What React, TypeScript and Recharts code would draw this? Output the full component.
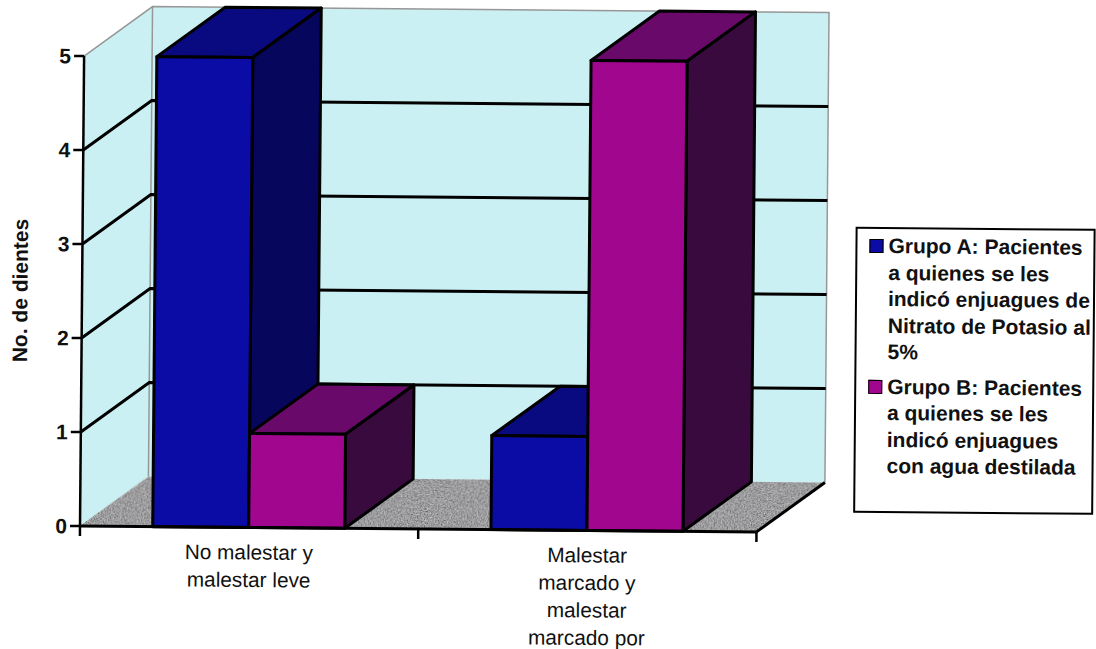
import { BarChart, Bar, XAxis, YAxis, Legend, Customized, usePlotArea } from 'recharts';

const categories = ['No malestar y malestar leve', 'Malestar marcado y malestar marcado por'];
const grupoA = [5, 1];
const grupoB = [1, 5];
const yTicks = [0, 1, 2, 3, 4, 5];
const gridValues = [1, 2, 3, 4];

const categoryLines = [
  ['No malestar y', 'malestar leve'],
  ['Malestar', 'marcado y', 'malestar', 'marcado por'],
];
const legendA = ['Grupo A: Pacientes', 'a quienes se les', 'indicó enjuagues de', 'Nitrato de Potasio al', '5%'];
const legendB = ['Grupo B: Pacientes', 'a quienes se les', 'indicó enjuagues', 'con agua destilada'];

const data = categories.map((name, i) => ({ name, a: grupoA[i], b: grupoB[i] }));

// depth of the fake 3D box, in px
const DX = 68;
const DY = 50;
const WALL = '#cbf0f3';
const FLOOR = '#9c9b9d';
const EDGE = '#979797';
const FONT = '"Liberation Sans", Arial, sans-serif';

const BLUE = { front: '#0b0ba6', top: '#0a0a80', side: '#06065c' };
const PURPLE = { front: '#a1068f', top: '#690a6b', side: '#380a3e' };

const Box = (props: any, c: typeof BLUE) => {
  const { x, y, width, height } = props;
  const stroke = { stroke: '#000', strokeWidth: 3, strokeLinejoin: 'round' as const };
  return (
    <g>
      <polygon points={`${x},${y} ${x + DX},${y - DY} ${x + width + DX},${y - DY} ${x + width},${y}`} fill={c.top} {...stroke} />
      <polygon points={`${x + width},${y} ${x + width + DX},${y - DY} ${x + width + DX},${y + height - DY} ${x + width},${y + height}`} fill={c.side} {...stroke} />
      <rect x={x} y={y} width={width} height={height} fill={c.front} {...stroke} />
    </g>
  );
};

// walls, floor and bent grid lines sit behind the bars
const Walls = () => {
  const plot = usePlotArea();
  if (!plot) return null;
  const { x, y, width, height } = plot;
  const b = y + height;
  const r = x + width;
  return (
    <g>
      <defs>
        <filter id="speckle" x="0" y="0" width="100%" height="100%">
          <feTurbulence type="fractalNoise" baseFrequency="0.7" numOctaves="2" seed="4" result="n" />
          <feColorMatrix in="n" type="matrix" values="1 0 0 0 0 1 0 0 0 0 1 0 0 0 0 0 0 0 0 1" result="g" />
          <feComposite in="SourceGraphic" in2="g" operator="arithmetic" k1="0" k2="1" k3="0.7" k4="-0.35" result="m" />
          <feComposite in="m" in2="SourceAlpha" operator="in" />
        </filter>
      </defs>
      <polygon points={`${x},${y} ${x + DX},${y - DY} ${x + DX},${b - DY} ${x},${b}`} fill={WALL} />
      <rect x={x + DX} y={y - DY} width={width} height={height} fill={WALL} />
      <polygon points={`${x},${b} ${x + DX},${b - DY} ${r + DX},${b - DY} ${r},${b}`} fill={FLOOR} filter="url(#speckle)" />
      <polyline points={`${x},${y} ${x + DX},${y - DY} ${r + DX},${y - DY} ${r + DX},${b - DY}`} fill="none" stroke={EDGE} strokeWidth={1.5} />
      <line x1={x + DX} y1={y - DY} x2={x + DX} y2={b - DY} stroke={EDGE} strokeWidth={1.5} />
      {gridValues.map(v => {
        const gy = b - (height * v) / yTicks[yTicks.length - 1];
        return (
          <polyline
            key={v}
            points={`${x},${gy} ${x + DX},${gy - DY} ${r + DX},${gy - DY}`}
            fill="none"
            stroke="#000"
            strokeWidth={3}
          />
        );
      })}
      <line x1={r} y1={b} x2={r + DX} y2={b - DY} stroke="#000" strokeWidth={3} />
      {[0, 1, 2].map(i => {
        const tx = x + (width * i) / 2;
        return <line key={i} x1={tx} y1={b} x2={tx} y2={b + 10} stroke="#000" strokeWidth={2.5} />;
      })}
    </g>
  );
};

const CategoryTick = ({ x, y, index }: any) => (
  <text x={x} y={y} textAnchor="middle" fontFamily={FONT} fontSize={20.8} fill="#111">
    {categoryLines[index].map((line, i) => (
      <tspan key={line} x={x} y={y + 24 + i * 27.5}>
        {line}
      </tspan>
    ))}
  </text>
);

const LegendEntry = ({ lines, color }: { lines: string[]; color: string }) => (
  <div style={{ position: 'relative', paddingLeft: 31, marginBottom: 8 }}>
    <span
      style={{
        position: 'absolute',
        left: 12,
        top: 6,
        width: 12,
        height: 12,
        background: color,
        border: '1.5px solid #000',
      }}
    />
    {lines.map(line => (
      <div key={line}>{line}</div>
    ))}
  </div>
);

const LegendBox = () => (
  <div
    style={{
      boxSizing: 'border-box',
      width: 240,
      height: 286,
      paddingTop: 4,
      border: '2.5px solid #000',
      background: '#fff',
      fontFamily: FONT,
      fontWeight: 700,
      fontSize: 21,
      lineHeight: '26.5px',
      color: '#111',
      whiteSpace: 'nowrap',
    }}
  >
    <LegendEntry lines={legendA} color={BLUE.front} />
    <LegendEntry lines={legendB} color={PURPLE.front} />
  </div>
);

const App = () => (
  <div style={{ position: 'fixed', left: 0, top: 0, width: 1096, height: 649, overflow: 'hidden', background: '#fff' }}>
    <div style={{ transform: 'rotate(0.5deg)', transformOrigin: '80px 526px' }}>
      <BarChart
        width={1096}
        height={649}
        data={data}
        barCategoryGap="21.5%"
        barGap={0}
        margin={{ top: 56, right: 97, bottom: 0, left: 0 }}
      >
        <Customized component={Walls} />
        <XAxis
          dataKey="name"
          height={123}
          interval={0}
          tick={CategoryTick}
          tickLine={false}
          axisLine={{ stroke: '#000', strokeWidth: 3 }}
        />
        <YAxis
          width={80}
          domain={[0, 5]}
          ticks={yTicks}
          tickSize={10}
          tickMargin={3}
          tick={{ fill: '#111', fontFamily: FONT, fontWeight: 700, fontSize: 21 }}
          tickLine={{ stroke: '#000', strokeWidth: 2.5 }}
          axisLine={{ stroke: '#000', strokeWidth: 2.5 }}
          label={{
            value: 'No. de dientes',
            angle: -90,
            position: 'insideLeft',
            offset: 18,
            style: { fontFamily: FONT, fontWeight: 700, fontSize: 21, fill: '#111', textAnchor: 'middle' },
          }}
        />
        <Bar dataKey="a" isAnimationActive={false} shape={(p: any) => Box(p, BLUE)} />
        <Bar dataKey="b" isAnimationActive={false} shape={(p: any) => Box(p, PURPLE)} />
        <Legend
          layout="vertical"
          align="right"
          verticalAlign="middle"
          content={<LegendBox />}
          wrapperStyle={{ position: 'absolute', left: 853, top: 220, width: 240, height: 286, right: 'auto', bottom: 'auto' }}
        />
      </BarChart>
    </div>
  </div>
);

export default App;
